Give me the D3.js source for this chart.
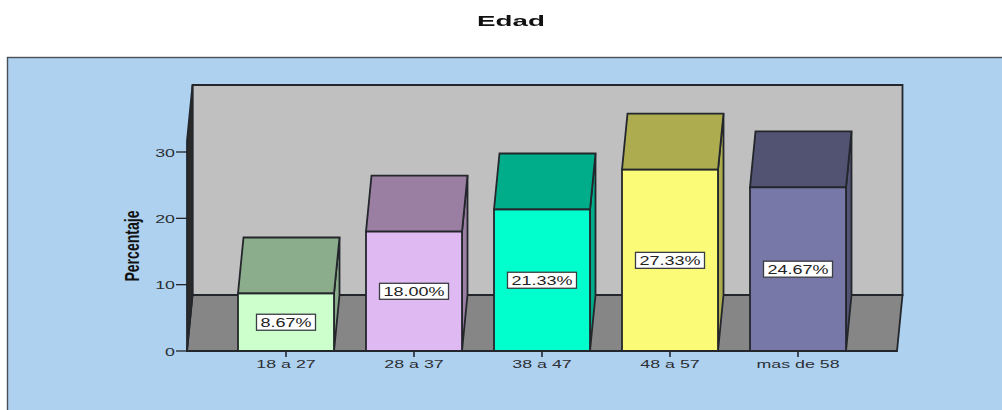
<!DOCTYPE html>
<html><head><meta charset="utf-8">
<style>html,body{margin:0;padding:0;background:#fff}svg{display:block}text{font-family:"Liberation Sans",Arial,sans-serif}</style>
<script src="https://cdn.jsdelivr.net/npm/d3@7/dist/d3.min.js"></script>
</head><body><svg id="c" width="1002" height="410"></svg>
<script>
const categories=["18 a 27","28 a 37","38 a 47","48 a 57","mas de 58"];
const values=[8.67,18.00,21.33,27.33,24.67];
const labels=["8.67%","18.00%","21.33%","27.33%","24.67%"];
const frontColors=["#CCFFCC","#DFB9F2","#00FFCC","#FBFB77","#7878A8"];
const darkColors=["#8BAD8B","#9A7FA3","#00AD8B","#ADAD4F","#525273"];
const yTicks=[0,10,20,30];

const ink="#23262b", dx=5.5, dy=-56, lw=1.8;
const svg=d3.select("#c").append("g").style("filter","blur(0.45px)");
const x=d3.scaleBand().domain(categories).range([238,846]).paddingInner(0.25).paddingOuter(0);
const y=d3.scaleLinear().domain([0,30]).range([351,152]);
const pts=a=>a.map(p=>p.join(",")).join(" ");
const plotL=187, plotR=897, plotTop=85, base=y(0);

function wideText(g,s,cx,cy,size,sx,opts={}){
  return g.append("text").attr("transform",`translate(${cx},${cy}) scale(${sx},1)`)
    .attr("text-anchor",opts.anchor||"middle").attr("font-size",size)
    .attr("font-weight",opts.weight||"normal").attr("fill",opts.fill||"#2c2f33").text(s);
}

svg.append("rect").attr("x",7.5).attr("y",57.5).attr("width",1010).attr("height",370)
  .attr("fill","#AED1F0").attr("stroke","#4a4f55").attr("stroke-width",1.4);
wideText(svg,"Edad",511,25.5,15,1.85,{weight:"bold",fill:"#111"});

svg.append("polygon").attr("points",pts([[plotL+dx,plotTop],[plotR+dx,plotTop],[plotR+dx,base+dy],[plotL+dx,base+dy]]))
  .attr("fill","#C0C0C0").attr("stroke",ink).attr("stroke-width",lw);
svg.append("polygon").attr("points",pts([[plotL,base],[plotL+dx,base+dy],[plotR+dx,base+dy],[plotR,base]]))
  .attr("fill","#868686").attr("stroke",ink).attr("stroke-width",lw);
svg.append("polygon").attr("points",pts([[plotL,base],[plotL,plotTop+56],[plotL+dx,plotTop],[plotL+dx,base+dy]]))
  .attr("fill","#2a2a2a").attr("stroke",ink).attr("stroke-width",lw);

const bars=svg.selectAll("g.bar").data(categories).join("g").attr("class","bar");
bars.each(function(c,i){
  const g=d3.select(this), l=x(c), r=l+x.bandwidth(), t=y(values[i]);
  g.append("polygon").attr("points",pts([[r,base],[r,t],[r+dx,t+dy],[r+dx,base+dy]]))
    .attr("fill",darkColors[i]).attr("stroke",ink).attr("stroke-width",lw);
  g.append("polygon").attr("points",pts([[l,t],[l+dx,t+dy],[r+dx,t+dy],[r,t]]))
    .attr("fill",darkColors[i]).attr("stroke",ink).attr("stroke-width",lw);
  g.append("rect").attr("x",l).attr("y",t).attr("width",x.bandwidth()).attr("height",base-t)
    .attr("fill",frontColors[i]).attr("stroke",ink).attr("stroke-width",lw);
  const ly=y(values[i]/2), w=labels[i].length>5?69:59, cx=l+x.bandwidth()/2;
  g.append("rect").attr("x",cx-w/2).attr("y",ly-8).attr("width",w).attr("height",16)
    .attr("fill","#fff").attr("stroke","#3a3d42").attr("stroke-width",1.3);
  wideText(g,labels[i],cx,ly+4.5,12,1.5,{fill:"#222"});
});

const yAxis=svg.append("g");
yAxis.selectAll("line").data(yTicks).join("line").attr("x1",176).attr("x2",plotL)
  .attr("y1",d=>y(d)).attr("y2",d=>y(d)).attr("stroke",ink).attr("stroke-width",1.3);
yTicks.forEach(t=>wideText(yAxis,String(t),175,y(t)+4.5,11.5,1.55,{anchor:"end"}));
const xAxis=svg.append("g");
xAxis.selectAll("line").data(categories).join("line")
  .attr("x1",c=>x(c)+x.bandwidth()/2).attr("x2",c=>x(c)+x.bandwidth()/2)
  .attr("y1",base).attr("y2",base+6).attr("stroke",ink).attr("stroke-width",1.6);
categories.forEach(c=>wideText(xAxis,c,x(c)+x.bandwidth()/2,368,11,1.62));
svg.append("line").attr("x1",plotL).attr("x2",plotR).attr("y1",base).attr("y2",base).attr("stroke",ink).attr("stroke-width",lw);

svg.append("text").attr("transform","translate(139,246) rotate(-90) scale(0.88,1.3)")
  .attr("text-anchor","middle").attr("font-size",16).attr("font-weight","bold").attr("fill","#111").text("Percentaje");
</script></body></html>
